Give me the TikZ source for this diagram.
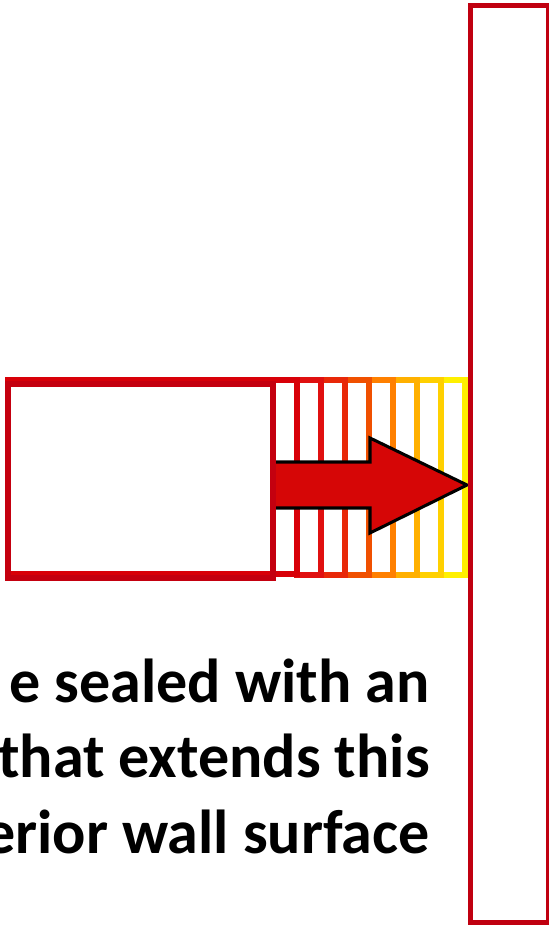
\documentclass[tikz,border=0pt]{standalone}
\usepackage{fontspec}
\setmainfont{Carlito}
\usepackage{tikz}
\usepackage{xcolor}
\definecolor{wallred}{HTML}{C00010}
\definecolor{darkred}{HTML}{C4000F}
\definecolor{framered}{HTML}{D80008}
\definecolor{arrowred}{HTML}{D60606}
\definecolor{sliceA}{HTML}{E01010}
\definecolor{sliceB}{HTML}{E82808}
\definecolor{sliceC}{HTML}{F05000}
\definecolor{sliceD}{HTML}{FF8000}
\definecolor{sliceE}{HTML}{FFB000}
\definecolor{sliceF}{HTML}{FFD000}
\definecolor{sliceG}{HTML}{FFF000}

\begin{document}
\begin{tikzpicture}[x=0.03cm, y=-0.03cm,
            edge/.style={line width=4.3pt},
            txt/.style={font=\fontsize{53pt}{64.4pt}\selectfont\bfseries, inner sep=0pt, anchor=base east}]
            \useasboundingbox (0,0) rectangle (548,930);
            % sliding frame, right to left
            \foreach \sc/\xr in {sliceG/465, sliceF/441, sliceE/417, sliceD/393, sliceC/369, sliceB/345, sliceA/321}
                \draw[edge, \sc] (\xr-24,380) rectangle (\xr,575);
            \draw[edge, framered] (8,380) rectangle (297,574);
            % push arrow
            \fill[arrowred] (273,462) -- (370,462) -- (370,438) -- (467,485) -- (370,533) -- (370,508) -- (273,508) -- cycle;
            \draw[black, line width=2.6pt, line join=miter] (273,462) -- (370,462) -- (370,438) -- (467,485) -- (370,533) -- (370,508) -- (273,508);
            \draw[edge, darkred] (8,384) rectangle (273,578);
            % wall
            \draw[edge, wallred] (470.5,5.5) rectangle (548.5,922.5);
            \node[txt] (lineA) at (430,702) {e sealed with an};
            \node[txt] (lineB) at (430,777) {that extends this};
            \node[txt] (lineC) at (430,853) {erior wall surface};
        \end{tikzpicture}
\end{document}
